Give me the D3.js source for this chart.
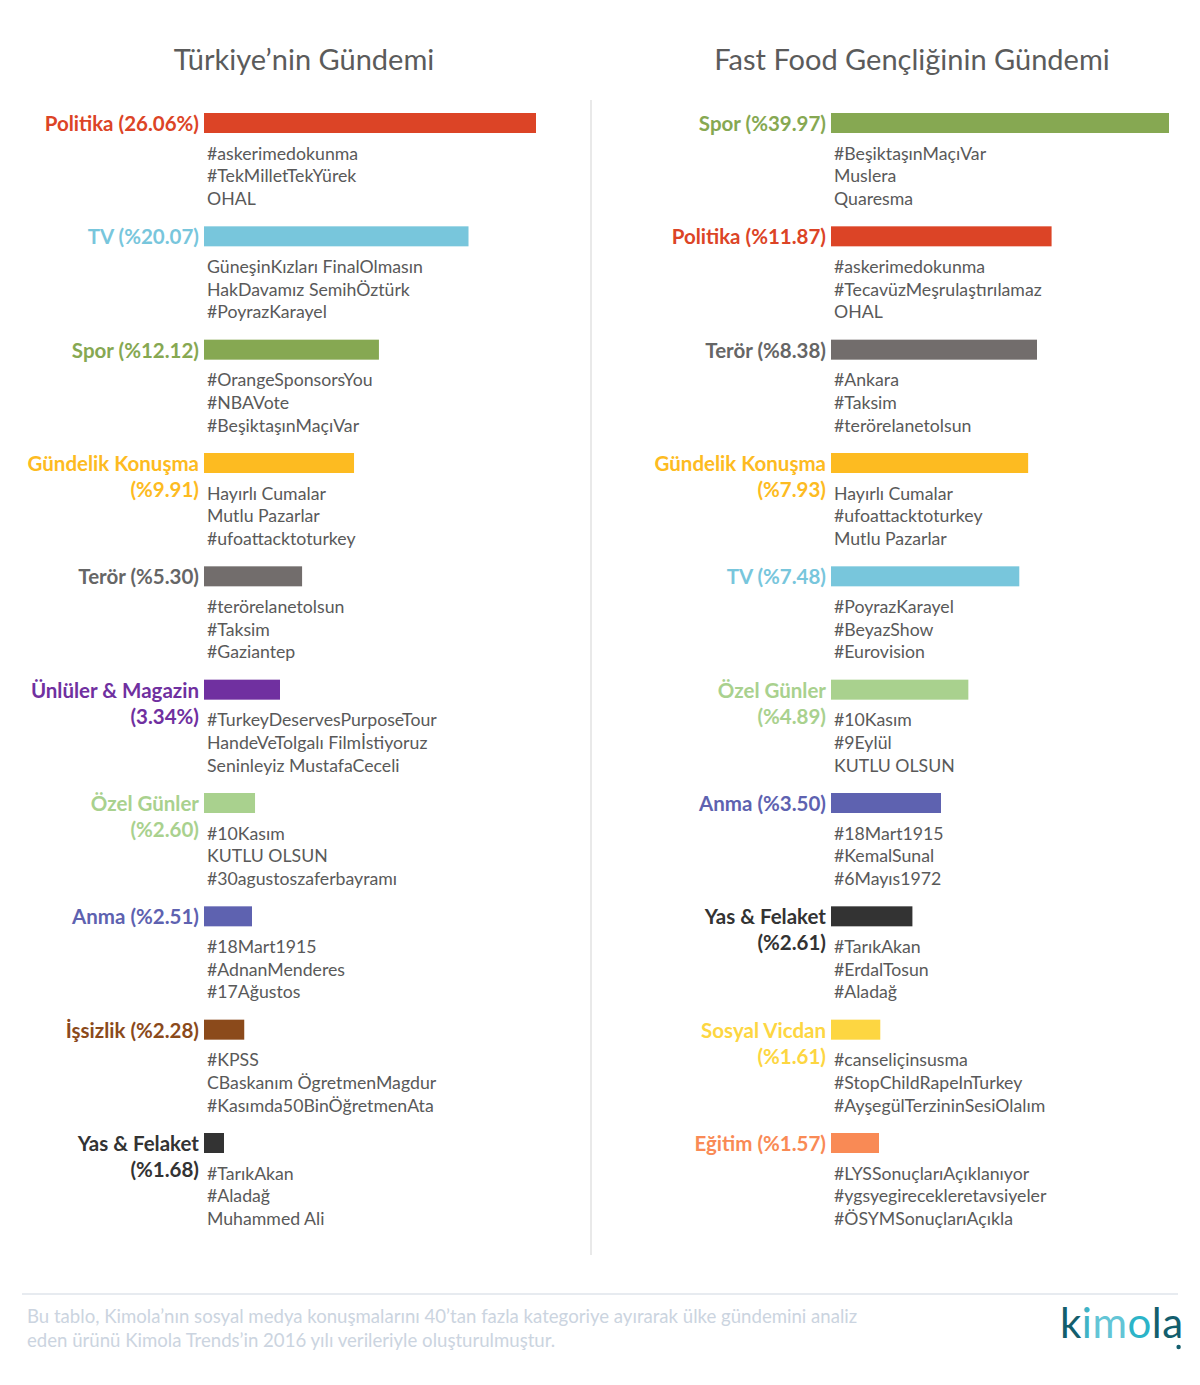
<!DOCTYPE html>
<html>
<head>
  <meta charset="UTF-8">
  <style>
    body { margin: 0; background: #fff; }
    text { font-family: Lato, "Open Sans", sans-serif; }
  </style>
</head>
<body>
<svg></svg>
<script src="https://d3js.org/d3.v7.min.js"></script>

<script>

let width = 1200, height = 1385;

// Türkiye'nin Gündemi
let leftCats = ["Politika", "TV", "Spor", "Gündelik", "Terör", "Ünlüler", "Özel", "Anma", "İşsizlik", "Yas"];
let leftLabels = [["Politika (26.06%)"], ["TV (%20.07)"], ["Spor (%12.12)"], ["Gündelik Konuşma", "(%9.91)"], ["Terör (%5.30)"],
    ["Ünlüler & Magazin", "(3.34%)"], ["Özel Günler", "(%2.60)"], ["Anma (%2.51)"], ["İşsizlik (%2.28)"], ["Yas & Felaket", "(%1.68)"]];
let leftValues = [26.06, 20.07, 12.12, 9.91, 5.30, 3.34, 2.60, 2.51, 2.28, 1.68];
let leftTags = [
    ["#askerimedokunma", "#TekMilletTekYürek", "OHAL"],
    ["GüneşinKızları FinalOlmasın", "HakDavamız SemihÖztürk", "#PoyrazKarayel"],
    ["#OrangeSponsorsYou", "#NBAVote", "#BeşiktaşınMaçıVar"],
    ["Hayırlı Cumalar", "Mutlu Pazarlar", "#ufoattacktoturkey"],
    ["#terörelanetolsun", "#Taksim", "#Gaziantep"],
    ["#TurkeyDeservesPurposeTour", "HandeVeTolgalı Filmİstiyoruz", "Seninleyiz MustafaCeceli"],
    ["#10Kasım", "KUTLU OLSUN", "#30agustoszaferbayramı"],
    ["#18Mart1915", "#AdnanMenderes", "#17Ağustos"],
    ["#KPSS", "CBaskanım ÖgretmenMagdur", "#Kasımda50BinÖğretmenAta"],
    ["#TarıkAkan", "#Aladağ", "Muhammed Ali"]
];

// Fast Food Gençliğinin Gündemi
let rightCats = ["Spor", "Politika", "Terör", "Gündelik", "TV", "Özel", "Anma", "Yas", "Sosyal", "Eğitim"];
let rightLabels = [["Spor (%39.97)"], ["Politika (%11.87)"], ["Terör (%8.38)"], ["Gündelik Konuşma", "(%7.93)"], ["TV (%7.48)"],
    ["Özel Günler", "(%4.89)"], ["Anma (%3.50)"], ["Yas & Felaket", "(%2.61)"], ["Sosyal Vicdan", "(%1.61)"], ["Eğitim (%1.57)"]];
let rightValues = [39.97, 11.87, 8.38, 7.93, 7.48, 4.89, 3.50, 2.61, 1.61, 1.57];
let rightTags = [
    ["#BeşiktaşınMaçıVar", "Muslera", "Quaresma"],
    ["#askerimedokunma", "#TecavüzMeşrulaştırılamaz", "OHAL"],
    ["#Ankara", "#Taksim", "#terörelanetolsun"],
    ["Hayırlı Cumalar", "#ufoattacktoturkey", "Mutlu Pazarlar"],
    ["#PoyrazKarayel", "#BeyazShow", "#Eurovision"],
    ["#10Kasım", "#9Eylül", "KUTLU OLSUN"],
    ["#18Mart1915", "#KemalSunal", "#6Mayıs1972"],
    ["#TarıkAkan", "#ErdalTosun", "#Aladağ"],
    ["#canseliçinsusma", "#StopChildRapeInTurkey", "#AyşegülTerzininSesiOlalım"],
    ["#LYSSonuçlarıAçıklanıyor", "#ygsyegirecekleretavsiyeler", "#ÖSYMSonuçlarıAçıkla"]
];

let titles = ["Türkiye’nin Gündemi", "Fast Food Gençliğinin Gündemi"];
let footnote = ["Bu tablo, Kimola’nın sosyal medya konuşmalarını 40’tan fazla kategoriye ayırarak ülke gündemini analiz",
    "eden ürünü Kimola Trends’in 2016 yılı verileriyle oluşturulmuştur."];

let color = d3.scaleOrdinal()
    .domain(["Politika", "TV", "Spor", "Gündelik", "Terör", "Ünlüler", "Özel", "Anma", "İşsizlik", "Yas", "Sosyal", "Eğitim"])
    .range(["#dc4426", "#78c6dc", "#86a852", "#fdbb21", "#726d6c", "#7030a0", "#a9d18e", "#5e62b0", "#8b4a1b", "#333333", "#fdd641", "#f98a55"]);

let svg = d3.select("svg")
    .attr("width", width)
    .attr("height", height)
    .attr("viewBox", "0 0 " + width + " " + height);

// rows sit on an even grid; the original stretches small values, so the bar scales are piecewise
let y = d3.scalePoint().domain(d3.range(10)).range([113, 1133]);
let xLeft = d3.scaleLinear().domain([0, 1.68, 3.34, 26.06]).range([0, 20, 76, 332]);
let xRight = d3.scaleLinear().domain([0, 1.57, 3.5, 8.38, 39.97]).range([0, 48, 110, 206, 338]);

function panel(cats, labels, values, tags, x, barX, titleX, title) {
    let g = svg.append("g");

    g.append("text")
    .attr("x", titleX)
    .attr("y", 58)
    .attr("text-anchor", "middle")
    .attr("dominant-baseline", "central")
    .attr("font-size", 29)
    .attr("fill", "#5b5b5b")
    .text(title);

    let row = g.selectAll("g.row")
    .data(values.map((v, i) => ({v: v, cat: cats[i], label: labels[i], tags: tags[i], i: i})))
    .enter()
    .append("g")
    .attr("class", "row")
    .attr("transform", d => "translate(0," + y(d.i) + ")");

    row.append("rect")
    .attr("x", barX)
    .attr("y", 0)
    .attr("width", d => x(d.v))
    .attr("height", 20)
    .attr("fill", d => color(d.cat));

    row.selectAll("text.label")
    .data(d => d.label.map((t, k) => ({t: t, k: k, cat: d.cat})))
    .enter()
    .append("text")
    .attr("class", "label")
    .attr("x", barX - 5)
    .attr("y", d => 10 + d.k * 26)
    .attr("text-anchor", "end")
    .attr("dominant-baseline", "central")
    .attr("font-size", 20.5)
    .attr("font-weight", 700)
    .attr("fill", d => d.cat == "Terör" ? "#666" : color(d.cat))
    .text(d => d.t);

    row.selectAll("text.tag")
    .data(d => d.tags)
    .enter()
    .append("text")
    .attr("class", "tag")
    .attr("x", barX + 3)
    .attr("y", (d, k) => 40 + k * 22.7)
    .attr("dominant-baseline", "central")
    .attr("font-size", 17.7)
    .attr("fill", "#595959")
    .text(d => d);
}

panel(leftCats, leftLabels, leftValues, leftTags, xLeft, 204, 304, titles[0]);
panel(rightCats, rightLabels, rightValues, rightTags, xRight, 831, 912, titles[1]);

svg.append("line")
.attr("x1", 591).attr("x2", 591)
.attr("y1", 100).attr("y2", 1255)
.attr("stroke", "#e9e9e9")
.attr("stroke-width", 2);

svg.append("line")
.attr("x1", 22).attr("x2", 1178)
.attr("y1", 1294).attr("y2", 1294)
.attr("stroke", "#dfe4eb")
.attr("stroke-width", 1.5);

svg.selectAll("text.foot")
.data(footnote)
.enter()
.append("text")
.attr("class", "foot")
.attr("x", 27)
.attr("y", (d, i) => 1316 + i * 24)
.attr("dominant-baseline", "central")
.attr("font-size", 18.6)
.attr("fill", "#cbd4e0")
.text(d => d);

// kimola logo
let logo = svg.append("text")
.attr("x", 1060)
.attr("y", 1338)
.attr("font-size", 42)
.attr("letter-spacing", 0.5);

[["k", "#135e6d"], ["i", "#3fb3c6"], ["m", "#63c5d6"], ["o", "#2cb4c8"], ["l", "#135e6d"], ["a", "#135e6d"]].forEach(c => {
    logo.append("tspan").attr("fill", c[1]).text(c[0]);
});

let logoBox = logo.node().getBBox();
svg.append("circle")
.attr("cx", logoBox.x + logoBox.width - 5)
.attr("cy", 1347)
.attr("r", 2.2)
.attr("fill", "#135e6d");

</script>

</body>
</html>
